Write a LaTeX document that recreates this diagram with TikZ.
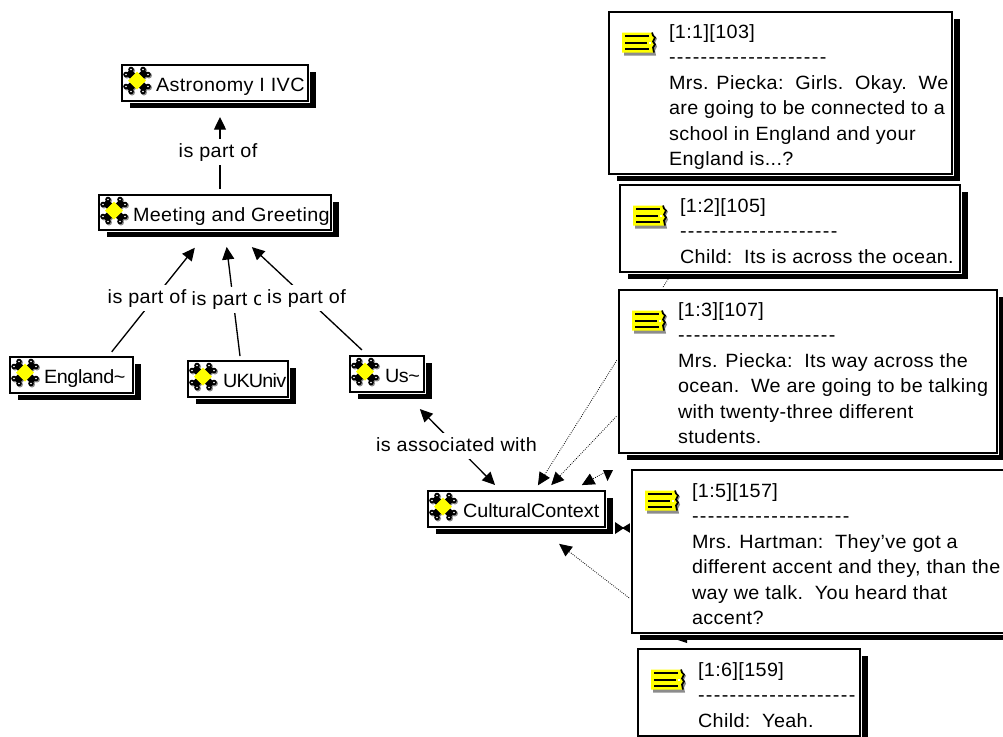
\documentclass[tikz,border=0pt]{standalone}
\usepackage{fontspec}
\setmainfont[FakeStretch=1.03,LetterSpace=2,Ligatures=NoCommon]{Liberation Sans}
\usetikzlibrary{shadows,arrows.meta,calc}
\newdimen\upx \upx=0.75pt
\pgfdeclarelayer{bg}
\pgfsetlayers{bg,main}
\definecolor{iconyellow}{RGB}{255,255,0}
\definecolor{iconshade}{RGB}{140,140,140}
\newcommand\boxtext[5]{\parbox[c][#2\upx][t]{#1\upx}{\fontsize{14.4}{19.125}\selectfont\leftskip=#3\upx\rightskip=-60pt plus 1fil\parfillskip=0pt\relax\vspace*{#4\upx}\leavevmode #5}}
\newcommand\hyph{-\kern1.35\upx}
\newcommand\hyphfive{\hyph\hyph\hyph\hyph\hyph}
\newcommand\dashrow{\hyphfive\hyphfive\hyphfive\hyphfive}
\tikzset{
  boxed/.style={draw=black,line width=.9pt,fill=white,inner sep=0pt,outer sep=0pt,anchor=north west,
    copy shadow={shadow xshift=6pt,shadow yshift=-5.25pt,fill=black,draw=none},
    preaction={draw=white,line width=2.4pt}},
  lab/.style={fill=white,inner xsep=6\upx,inner ysep=0pt,text height=18\upx,text depth=8\upx,anchor=base,
    font=\fontsize{14.4}{17}\selectfont},
  rel/.style={line width=1pt,draw=black,-{Triangle[length=9.5pt,width=9pt]}},
  dualrel/.style={line width=1pt,draw=black,{Triangle[length=9.5pt,width=9pt]}-{Triangle[length=9.5pt,width=9pt]}},
  dotrel/.style={line width=.6pt,draw=black,densely dotted,-{Triangle[length=9.5pt,width=9pt]}},
  gearicon/.pic={
    \foreach \sx in {-1,1}{\foreach \sy in {-1,1}{
      \draw[iconshade,line width=5.5pt] (1,1) -- (\sx*9+1,\sy*9+1);
      \fill[iconshade] (\sx*11+1,\sy*6+1) circle (3);
      \fill[iconshade] (\sx*6+1,\sy*11+1) circle (3);
    }}
    \foreach \sx in {-1,1}{\foreach \sy in {-1,1}{
      \draw[black,line width=5.5pt] (0,0) -- (\sx*9,\sy*9);
      \fill[black] (\sx*11,\sy*6) circle (2.8);
      \fill[black] (\sx*6,\sy*11) circle (2.8);
      \fill[white] (\sx*11,\sy*6) circle (.8);
      \fill[white] (\sx*6,\sy*11) circle (.8);
    }}
    \fill[iconyellow] (0,-9) -- (9,0) -- (0,9) -- (-9,0) -- cycle;
  },
  noteicon/.pic={
    \fill[iconshade] (2,3) -- (32,3) -- (35,6) -- (33,10) -- (35,14) -- (33,18) -- (34,23) -- (2,23) -- cycle;
    \fill[iconyellow] (0,0) -- (30,0) -- (31,3) -- (33,5) -- (31,9) -- (33,12) -- (31,15) -- (32,20) -- (0,20) -- cycle;
    \draw[black,line width=1.3pt] (30,0) -- (31,3) -- (33,5) -- (31,9) -- (33,12) -- (31,15) -- (32,20);
    \draw[black,line width=1.5pt] (3,3.5) -- (27,3.5) (3,10) -- (25,10) (3,16.5) -- (27,16.5);
    \fill[white] (27,9) rectangle (29,11);
  }
}
\begin{document}
\begin{tikzpicture}[x=0.75pt,y=-0.75pt]
\useasboundingbox (0,0) rectangle (1003,736);
% concept boxes
\node[boxed] (astro) at (122,65) {\boxtext{186}{36}{34}{13}{Astronomy I IVC}};
\node[boxed] (meet) at (99,195) {\boxtext{232}{35}{34}{13}{Meeting and Greeting}};
\node[boxed] (eng) at (10,357) {\boxtext{123}{36}{34}{13}{\addfontfeature{LetterSpace=-2}England\textasciitilde}};
\node[boxed] (uk) at (188,361) {\boxtext{100}{36}{35}{13}{\addfontfeature{LetterSpace=-4}UKUniv}};
\node[boxed] (us) at (350,356) {\boxtext{74}{36}{35}{13}{\addfontfeature{LetterSpace=-2}Us\textasciitilde}};
\node[boxed] (cc) at (428,491) {\boxtext{177}{36}{35}{13}{\addfontfeature{LetterSpace=0}CulturalContext}};
% note boxes
\node[boxed] (n1) at (609,12) {\boxtext{343}{162}{60}{12.5}{[1:1][103]\\\dashrow\\Mrs. Piecka:~~Girls.~~Okay.~~We\\are going to be connected to a\\school in England and your\\England is...?}};
\node[boxed] (n2) at (620,185) {\boxtext{340}{87}{60}{13.5}{[1:2][105]\\\dashrow\\Child:~~Its is across the ocean.}};
\node[boxed] (n3) at (619,290) {\boxtext{378}{163}{59}{12.5}{[1:3][107]\\\dashrow\\Mrs. Piecka:~~Its way across the\\ocean.~~We are going to be talking\\with twenty-three different\\students.}};
\node[boxed] (n5) at (632,470) {\boxtext{390}{163}{60}{13.5}{[1:5][157]\\\dashrow\\Mrs. Hartman:~~They've got a\\different accent and they, than the\\way we talk.~~You heard that\\accent?}};
\node[boxed] (n6) at (638,649) {\boxtext{222}{87}{60}{13.5}{[1:6][159]\\\dashrow\\Child:~~Yeah.}};
% icons
\foreach \b in {astro,meet,eng,uk,us,cc}{\pic at ([shift={(15,15.5)}]\b.north west) {gearicon};}
\foreach \b in {n1,n2,n3,n5,n6}{\pic at ([shift={(13,20.5)}]\b.north west) {noteicon};}
% connector labels
\node[lab] (la) at (218,157) {is part of};
\node[lab] (lu) at (231,305) {is part of};
\node[lab] (le) at (147,303) {is part of};
\node[lab] (ls) at (306.5,303) {is part of};
\node[lab] (lc) at (456.5,451) {is associated with};
\coordinate (stub) at (607,471);
\begin{pgfonlayer}{bg}
  \draw[rel,shorten <=6\upx,shorten >=16\upx] ([shift={(5,0)}]meet.north) -- ([shift={(5,0)}]astro.south);
  \draw[rel,shorten <=6.6\upx,shorten >=22.7\upx] ([shift={(36.1,0)}]eng.north) -- ([shift={(-6,0)}]meet.south);
  \draw[rel,shorten <=5\upx,shorten >=17\upx] ([shift={(2.6,0)}]uk.north) -- ([shift={(9.6,0)}]meet.south);
  \draw[rel,shorten <=8.8\upx,shorten >=25\upx] ([shift={(-18.6,0)}]us.north) -- ([shift={(18.6,0)}]meet.south);
  \draw[dualrel,shorten <=24\upx,shorten >=8.5\upx] ([shift={(16,0)}]us.south) -- ([shift={(-15.5,0)}]cc.north);
  \draw[dotrel,shorten >=28\upx] ([shift={(-90,0)}]n2.center) -- ([shift={(6.5,0)}]cc.center);
  \draw[dotrel,shorten >=33\upx] ([shift={(-149,0)}]n3.center) -- ([shift={(12,0)}]cc.center);
  \draw[dotrel,shorten >=49\upx] (stub) -- ([shift={(22.5,0)}]cc.center);
  \draw[dotrel,shorten >=57\upx] ([shift={(-169.3,68.5)}]n5.center) -- ([shift={(-2.5,0)}]cc.center);
  \fill[black] (603,470) -- (613,470) -- (607.5,481) -- cycle;
  \fill[black] (615,522) -- (615,534) -- (624,528) -- cycle;
  \fill[black] (632,522) -- (632,534) -- (622,528) -- cycle;
\end{pgfonlayer}
\fill[black] (672,638) -- (687,638) -- (687,643) -- cycle;
\end{tikzpicture}
\end{document}
